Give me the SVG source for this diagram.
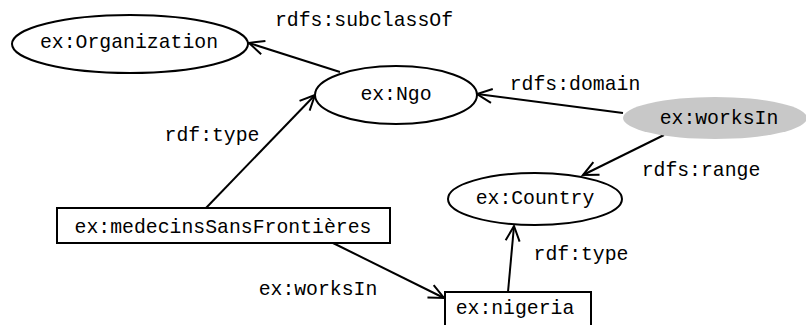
<svg xmlns="http://www.w3.org/2000/svg" width="806" height="325" viewBox="0 0 806 325">
<style>
.n{fill:#fff;stroke:#000;stroke-width:2}
.g{fill:#c8c8c8;stroke:none}
text{font-family:"Liberation Mono","DejaVu Sans Mono",monospace;font-size:19.8px;fill:#000;text-anchor:middle}
.e{stroke:#000;stroke-width:2;fill:none}
</style>
<defs>
<marker id="a" markerUnits="userSpaceOnUse" markerWidth="30" markerHeight="30" viewBox="-20 -15 30 30" refX="0" refY="0" orient="auto">
<path d="M-15,-7 L0,0 L-15,7" fill="none" stroke="#000" stroke-width="2"/>
</marker>
</defs>
<rect width="806" height="325" fill="#fff"/>
<g id="edges">
<line class="e" x1="340" y1="72" x2="249" y2="43" marker-end="url(#a)"/>
<line class="e" x1="206" y1="208" x2="315" y2="95" marker-end="url(#a)"/>
<line class="e" x1="623" y1="113" x2="477" y2="94" marker-end="url(#a)"/>
<line class="e" x1="664" y1="135" x2="583" y2="175" marker-end="url(#a)"/>
<line class="e" x1="333" y1="243" x2="444" y2="298" marker-end="url(#a)"/>
<line class="e" x1="508" y1="292" x2="514" y2="226" marker-end="url(#a)"/>
<text x="364" y="26">rdfs:subclassOf</text>
<text x="212" y="141">rdf:type</text>
<text x="575" y="90">rdfs:domain</text>
<text x="701" y="176">rdfs:range</text>
<text x="318" y="295">ex:worksIn</text>
<text x="581" y="260">rdf:type</text>
</g>
<g id="organization">
<ellipse class="n" cx="130" cy="44" rx="118" ry="29"/>
<text x="129" y="48">ex:Organization</text>
</g>
<g id="ngo">
<ellipse class="n" cx="396" cy="95" rx="81" ry="29"/>
<text x="396" y="100">ex:Ngo</text>
</g>
<g id="worksIn">
<ellipse class="g" cx="715" cy="118" rx="92" ry="21"/>
<text x="719" y="124">ex:worksIn</text>
</g>
<g id="country">
<ellipse class="n" cx="535" cy="199" rx="87" ry="26"/>
<text x="535" y="204">ex:Country</text>
</g>
<g id="msf">
<rect class="n" x="57" y="208" width="333" height="35"/>
<text x="223" y="233">ex:medecinsSansFrontières</text>
</g>
<g id="nigeria">
<rect class="n" x="445" y="292" width="146" height="40"/>
<text x="515" y="314">ex:nigeria</text>
</g>
</svg>
